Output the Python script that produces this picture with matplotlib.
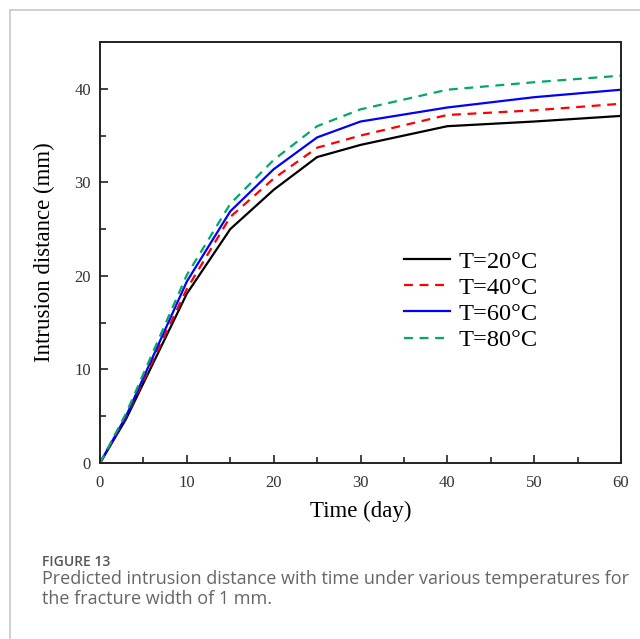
import numpy as np
import matplotlib.pyplot as plt
from matplotlib.ticker import MultipleLocator
from matplotlib.patches import Rectangle

# data
time_day = [0, 3, 10, 15, 20, 25, 30, 40, 50, 60]
d_20 = [0, 4.7, 18.1, 25.0, 29.2, 32.7, 34.0, 36.0, 36.5, 37.1]
d_40 = [0, 4.9, 18.6, 26.3, 30.4, 33.7, 35.0, 37.2, 37.7, 38.4]
d_60 = [0, 5.0, 19.4, 26.9, 31.4, 34.8, 36.5, 38.0, 39.1, 39.9]
d_80 = [0, 5.3, 20.1, 27.7, 32.4, 36.0, 37.8, 39.9, 40.7, 41.4]
labels = ["T=20°C", "T=40°C", "T=60°C", "T=80°C"]

serif = "Liberation Serif"

fig = plt.figure(figsize=(6.4, 6.39), dpi=100)
# light frame around the figure panel
fig.patches.append(Rectangle((9.5/640, -0.1), 2, 1 - 9.5/639 + 0.1, transform=fig.transFigure,
                             fill=False, edgecolor="#c8c8c8", linewidth=1.2))

ax = fig.add_axes([100/640, 1 - 463/639, 521/640, 421/639])

ax.plot(time_day, d_20, color="black", linewidth=1.6, label=labels[0])
ax.plot(time_day, d_40, color="#ff0000", linewidth=1.6, linestyle=(0, (4, 3)), label=labels[1])
ax.plot(time_day, d_60, color="#0000ff", linewidth=1.6, label=labels[2])
ax.plot(time_day, d_80, color="#00a86b", linewidth=1.6, linestyle=(0, (4, 3)), label=labels[3])

ax.set_xlim(0, 60)
ax.set_ylim(0, 45)
ax.xaxis.set_major_locator(MultipleLocator(10))
ax.xaxis.set_minor_locator(MultipleLocator(5))
ax.yaxis.set_major_locator(MultipleLocator(10))
ax.yaxis.set_minor_locator(MultipleLocator(5))
ax.tick_params(which="both", direction="in", top=False, right=False, width=1.2, colors="#222222",
               labelcolor="#333333")
ax.tick_params(which="major", length=6, labelsize=12)
ax.tick_params(axis="x", which="major", pad=8.5)
ax.tick_params(axis="y", which="major", pad=6.5)
ax.tick_params(which="minor", length=4)
for lab in ax.get_xticklabels() + ax.get_yticklabels():
    lab.set_fontfamily(serif)
for sp in ax.spines.values():
    sp.set_linewidth(1.4)
    sp.set_color("#222222")

ax.set_xlabel("Time (day)", fontsize=16.5, family=serif, labelpad=7.5)
ax.set_ylabel("Intrusion distance (mm)", fontsize=16.5, family=serif, labelpad=14)

leg = ax.legend(loc="center left", bbox_to_anchor=(0.564, 0.385), frameon=False,
                prop={"family": serif, "size": 17.6}, handlelength=1.88, handletextpad=0.35,
                labelspacing=0.165, borderaxespad=0)

# caption
fig.text(42/640, 1 - 566/639, "FIGURE 13", fontsize=10, color="#555555", family="Open Sans",
         fontweight="semibold", va="baseline")
fig.text(42/640, 1 - 584/639, "Predicted intrusion distance with time under various temperatures for",
         fontsize=13, color="#666666", family="Open Sans", va="baseline")
fig.text(42/640, 1 - 604/639, "the fracture width of 1 mm.",
         fontsize=13, color="#666666", family="Open Sans", va="baseline")

fig.savefig("out.png", dpi=100)
